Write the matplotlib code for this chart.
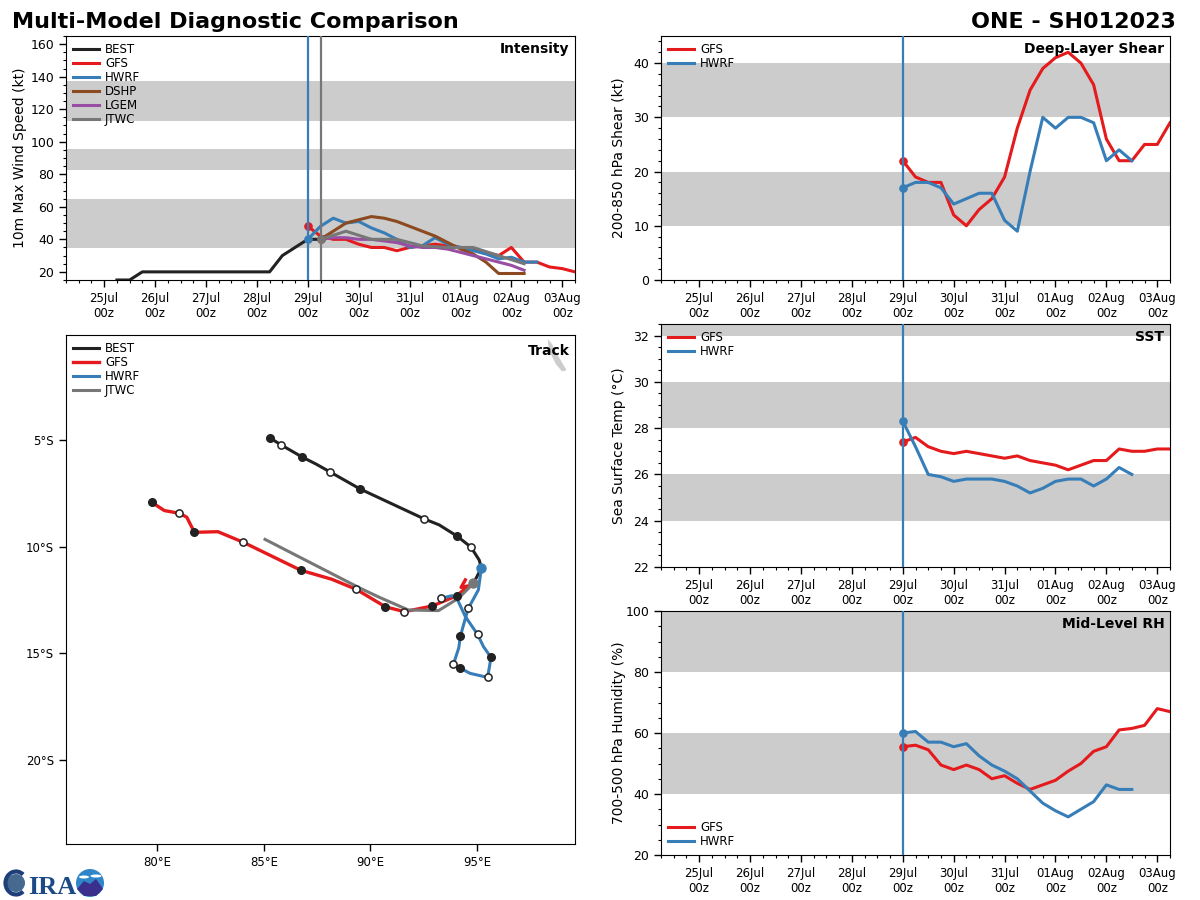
import numpy as np
import pandas as pd
import matplotlib
matplotlib.use("Agg")
import matplotlib.pyplot as plt
import matplotlib.dates as mdates
from matplotlib.ticker import MultipleLocator, FuncFormatter
from matplotlib.patches import Circle, Polygon, Ellipse, Arc

# ---------- data ----------
T0 = "2023-07-29 00:00"
best_vmax = [15, 15, 20, 20, 20, 20, 20, 20, 20, 20, 20, 20, 20, 30, 35, 40, 40]
gfs_vmax = [48, 42, 40, 40, 37, 35, 35, 33, 35, 36, 37, 36, 35, 34, 32, 30, 35, 26, 26, 23, 22, 20]
hwrf_vmax = [40, 48, 53, 50, 51, 47, 44, 40, 35, 36, 41, 37, 35, 33, 31, 28, 29, 26, 26]
dshp_vmax = [40, 45, 50, 52, 54, 53, 51, 48, 45, 42, 38, 34, 31, 26, 19, 19, 19]
lgem_vmax = [40, 41, 41, 40, 40, 39, 38, 36, 35, 35, 34, 32, 30, 28, 26, 24, 21]
jtwc_vmax = [40, 45, 40, 40, 36, 35, 35, 30, 25]

gfs_shear = [22, 19, 18, 18, 12, 10, 13, 15, 19, 28, 35, 39, 41, 42, 40, 36, 26, 22, 22, 25, 25, 29]
hwrf_shear = [17, 18, 18, 17, 14, 15, 16, 16, 11, 9, 20, 30, 28, 30, 30, 29, 22, 24, 22]

gfs_sst = [27.4, 27.6, 27.2, 27.0, 26.9, 27.0, 26.9, 26.8, 26.7, 26.8, 26.6, 26.5, 26.4, 26.2, 26.4, 26.6, 26.6, 27.1, 27.0, 27.0, 27.1, 27.1]
hwrf_sst = [28.3, 27.2, 26.0, 25.9, 25.7, 25.8, 25.8, 25.8, 25.7, 25.5, 25.2, 25.4, 25.7, 25.8, 25.8, 25.5, 25.8, 26.3, 26.0]

gfs_rh = [55.5, 56, 54.5, 49.5, 48, 49.5, 48, 45, 46, 43.5, 41.5, 43, 44.5, 47.5, 50, 54, 55.5, 61, 61.5, 62.5, 68, 67]
hwrf_rh = [60, 60.5, 57, 57, 55.5, 56.5, 52.5, 49.5, 47.5, 45, 41, 37, 34.5, 32.5, 35, 37.5, 43, 41.5, 41.5]

best_lon = [85.30, 85.81, 86.80, 87.45, 88.11, 89.52, 92.52, 93.22, 94.05, 94.71, 95.10, 95.20, 94.83]
best_lat = [-4.91, -5.23, -5.80, -6.13, -6.50, -7.30, -8.70, -8.98, -9.50, -10.02, -10.63, -11.01, -11.72]
best_filled = [0, 2, 5, 8]
best_open = [1, 4, 6, 9]

gfs_lon = [94.45, 94.25, 94.60, 94.05, 92.91, 91.59, 90.70, 89.33, 88.19, 86.74, 84.05, 82.85, 81.75, 81.39, 81.05, 80.34, 79.75]
gfs_lat = [-11.56, -11.91, -11.84, -12.30, -12.78, -13.05, -12.82, -12.00, -11.53, -11.11, -9.80, -9.30, -9.33, -8.62, -8.44, -8.31, -7.92]
gfs_filled = [3, 4, 6, 9, 12, 16]
gfs_open = [5, 7, 10, 14]

hwrf_lon = [95.20, 95.06, 94.59, 94.45, 94.22, 94.14, 93.89, 94.22, 94.67, 95.49, 95.58, 95.65, 95.30, 95.02, 94.45, 94.05, 93.82, 93.33]
hwrf_lat = [-11.01, -12.03, -12.89, -13.36, -14.19, -14.75, -15.52, -15.70, -15.94, -16.13, -15.63, -15.19, -14.69, -14.11, -13.28, -12.42, -12.30, -12.42]
hwrf_filled = [4, 7, 11]
hwrf_open = [2, 6, 9, 13, 17]

jtwc_lon = [94.83, 94.13, 93.19, 91.78, 90.45, 89.52, 85.06]
jtwc_lat = [-11.72, -12.42, -13.00, -12.97, -12.39, -11.95, -9.66]

land_lon = [98.33, 98.52, 98.66, 98.89, 99.17, 98.99, 98.71, 98.52, 98.38]
land_lat = [-0.31, -0.55, -0.87, -1.25, -1.72, -1.77, -1.44, -1.06, -0.69]

lat_ticks = [-5, -10, -15, -20]
lon_ticks = [80, 85, 90, 95]

# ---------- styles ----------
C = dict(BEST="#222222", GFS="#e41a1c", HWRF="#377eb8", DSHP="#8b4a20", LGEM="#984ea3", JTWC="#777777")
BAND = "#cccccc"
LW = 2.2
W, H = 1200, 900
plt.rcParams["font.family"] = "DejaVu Sans"
fig = plt.figure(figsize=(12, 9), dpi=100, facecolor="white")


def mkax(x0, x1, y0, y1):
    return fig.add_axes([x0 / W, 1 - y1 / H, (x1 - x0) / W, (y1 - y0) / H])


def times(start, n, step=6):
    return pd.date_range(pd.Timestamp(start), periods=n, freq=f"{step}h")


def style_time(ax, ylim, major, minor, bands, ylabel, label_dx):
    ax.set_xlim(pd.Timestamp("2023-07-24 06:00"), pd.Timestamp("2023-08-03 06:00"))
    ax.set_ylim(*ylim)
    for b in bands:
        ax.axhspan(b[0], b[1], color=BAND, lw=0, zorder=0)
    ax.xaxis.set_major_locator(mdates.HourLocator(byhour=[0]))
    ax.xaxis.set_minor_locator(mdates.HourLocator(byhour=[0, 6, 12, 18]))
    ax.xaxis.set_major_formatter(mdates.DateFormatter("%d%b\n%Hz"))
    ax.yaxis.set_major_locator(MultipleLocator(major))
    ax.yaxis.set_minor_locator(MultipleLocator(minor))
    ax.tick_params(axis="both", which="major", labelsize=8.5, length=5, width=1)
    ax.tick_params(axis="y", which="major", labelsize=9)
    ax.tick_params(axis="both", which="minor", length=2.5, width=0.8)
    ax.set_ylabel(ylabel, fontsize=10)
    ax.yaxis.set_label_coords(-label_dx / 509, 0.5)
    ax.axvline(pd.Timestamp(T0), color=C["HWRF"], lw=1.6, zorder=4.6)


def series(ax, start, vals, name, step=6, z=4, mz=None):
    t = times(start, len(vals), step)
    ax.plot(t, vals, color=C[name], lw=LW, label=name, zorder=z, solid_joinstyle="round")
    ax.plot(t[:1], vals[:1], "o", color=C[name], ms=5.2, zorder=(z + 0.5) if mz is None else mz)


def tag(ax, s, dy=6.0):
    ax.annotate(s, xy=(1, 1), xycoords="axes fraction", xytext=(-4.0, -dy * 0.72), textcoords="offset points",
                ha="right", va="top", fontsize=10, fontweight="bold", zorder=9)


def leg(ax, loc="upper left"):
    ax.legend(loc=loc, frameon=False, fontsize=8.5, handlelength=2.2, labelspacing=0.09,
              borderaxespad=0.25, handletextpad=0.5, borderpad=0.35)


# ---------- intensity ----------
ax = mkax(66, 575, 36, 280)
style_time(ax, (15, 165), 20, 5, [(34.5, 65), (82.5, 95.7), (112.5, 137.5)], "10m Max Wind Speed (kt)", 39)
ax.set_yticks(range(20, 161, 20))
ax.axvline(pd.Timestamp("2023-07-29 06:00"), color=C["JTWC"], lw=1.6, zorder=4.65)
t = times("2023-07-25 06:00", len(best_vmax))
ax.plot(t, best_vmax, color=C["BEST"], lw=LW, label="BEST", zorder=4)
series(ax, T0, gfs_vmax, "GFS", z=4.1, mz=4.5)
series(ax, T0, hwrf_vmax, "HWRF", z=4.2, mz=4.7)
series(ax, "2023-07-29 06:00", dshp_vmax, "DSHP", z=4.3, mz=4.55)
t = times("2023-07-29 06:00", len(lgem_vmax))
ax.plot(t, lgem_vmax, color=C["LGEM"], lw=LW, label="LGEM", zorder=4.4)
series(ax, "2023-07-29 06:00", jtwc_vmax, "JTWC", step=12, z=4.45, mz=4.8)
leg(ax)
tag(ax, "Intensity")

# ---------- shear ----------
ax = mkax(661, 1170, 36, 280)
style_time(ax, (0, 45), 10, 2, [(10, 20), (30, 40)], "200-850 hPa Shear (kt)", 35)
series(ax, T0, gfs_shear, "GFS", mz=4.5)
series(ax, T0, hwrf_shear, "HWRF", z=4.2, mz=4.7)
leg(ax)
tag(ax, "Deep-Layer Shear")

# ---------- SST ----------
ax = mkax(661, 1170, 324, 567)
style_time(ax, (22, 32.5), 2, 0.5, [(24, 26), (28, 30), (32, 34)], "Sea Surface Temp (°C)", 35)
series(ax, T0, gfs_sst, "GFS", mz=4.5)
series(ax, T0, hwrf_sst, "HWRF", z=4.2, mz=4.7)
leg(ax)
tag(ax, "SST")

# ---------- RH ----------
ax = mkax(661, 1170, 611, 855)
style_time(ax, (20, 100), 20, 5, [(40, 60), (80, 100)], "700-500 hPa Humidity (%)", 35)
series(ax, T0, gfs_rh, "GFS", mz=4.5)
series(ax, T0, hwrf_rh, "HWRF", z=4.2, mz=4.7)
leg(ax, "lower left")
tag(ax, "Mid-Level RH")

# ---------- track ----------
ax = mkax(66, 575, 335, 844)
ax.set_xlim(75.73, 99.59)
ax.set_ylim(-23.94, -0.08)
ax.add_patch(Polygon(np.column_stack([land_lon, land_lat]), closed=True, fc=BAND, ec=BAND, lw=0.5, zorder=1))
ax.plot(best_lon, best_lat, color=C["BEST"], lw=LW, label="BEST", zorder=4)
ax.plot(gfs_lon, gfs_lat, color=C["GFS"], lw=LW + 0.2, label="GFS", zorder=4.1)
ax.plot(hwrf_lon, hwrf_lat, color=C["HWRF"], lw=LW, label="HWRF", zorder=4.2)
ax.plot(jtwc_lon, jtwc_lat, color=C["JTWC"], lw=LW, label="JTWC", zorder=4.3)


def marks(lon, lat, filled, opened):
    lon, lat = np.array(lon), np.array(lat)
    ax.plot(lon[filled], lat[filled], "o", color="#222222", ms=5.5, ls="none", zorder=6)
    ax.plot(lon[opened], lat[opened], "o", mfc="white", mec="#222222", mew=1.1, ms=5.2, ls="none", zorder=6)


marks(best_lon, best_lat, best_filled, best_open)
marks(gfs_lon, gfs_lat, gfs_filled, gfs_open)
marks(hwrf_lon, hwrf_lat, hwrf_filled, hwrf_open)
ax.plot(hwrf_lon[:1], hwrf_lat[:1], "o", color=C["HWRF"], ms=6.5, zorder=7)
ax.plot(jtwc_lon[:1], jtwc_lat[:1], "o", color=C["JTWC"], ms=6.5, zorder=7)
ax.set_xticks(lon_ticks)
ax.set_yticks(lat_ticks)
ax.xaxis.set_major_formatter(FuncFormatter(lambda v, p: f"{v:.0f}°E"))
ax.yaxis.set_major_formatter(FuncFormatter(lambda v, p: f"{abs(v):.0f}°S"))
ax.tick_params(axis="both", which="major", labelsize=8.5, length=5, width=1)
leg(ax)
tag(ax, "Track", dy=9.0)

# ---------- titles ----------
fig.text(12 / W, 1 - 28 / H, "Multi-Model Diagnostic Comparison", fontsize=16, fontweight="bold", ha="left", va="baseline")
fig.text(1176 / W, 1 - 28 / H, "ONE - SH012023", fontsize=16, fontweight="bold", ha="right", va="baseline")

# ---------- logo ----------
lg = fig.add_axes([0, 0, 1, 1], facecolor="none", zorder=20)
lg.set_xlim(0, W)
lg.set_ylim(H, 0)
lg.axis("off")
lg.add_patch(Circle((16, 883), 9, fc="#45698f", ec="none"))
lg.add_patch(Arc((16, 883), 21, 23, theta1=50, theta2=310, ec="#1f3f7a", lw=3))
lg.text(28, 894, "IRA", fontsize=19, fontweight="bold", family="Liberation Serif", color="#1c4a86", ha="left", va="baseline")
lg.add_patch(Circle((90, 883), 14, fc="#2f86c8", ec="none"))
lg.add_patch(Ellipse((84, 877), 10, 3, fc="white", ec="none"))
lg.add_patch(Ellipse((96, 876), 11, 3, fc="white", ec="none"))
lg.add_patch(Polygon([(77, 889), (84, 881), (90, 884), (96, 879), (103, 889), (96, 896), (84, 896)], closed=True, fc="#3a2f8c", ec="none"))
fig.savefig("out.png", dpi=100)
